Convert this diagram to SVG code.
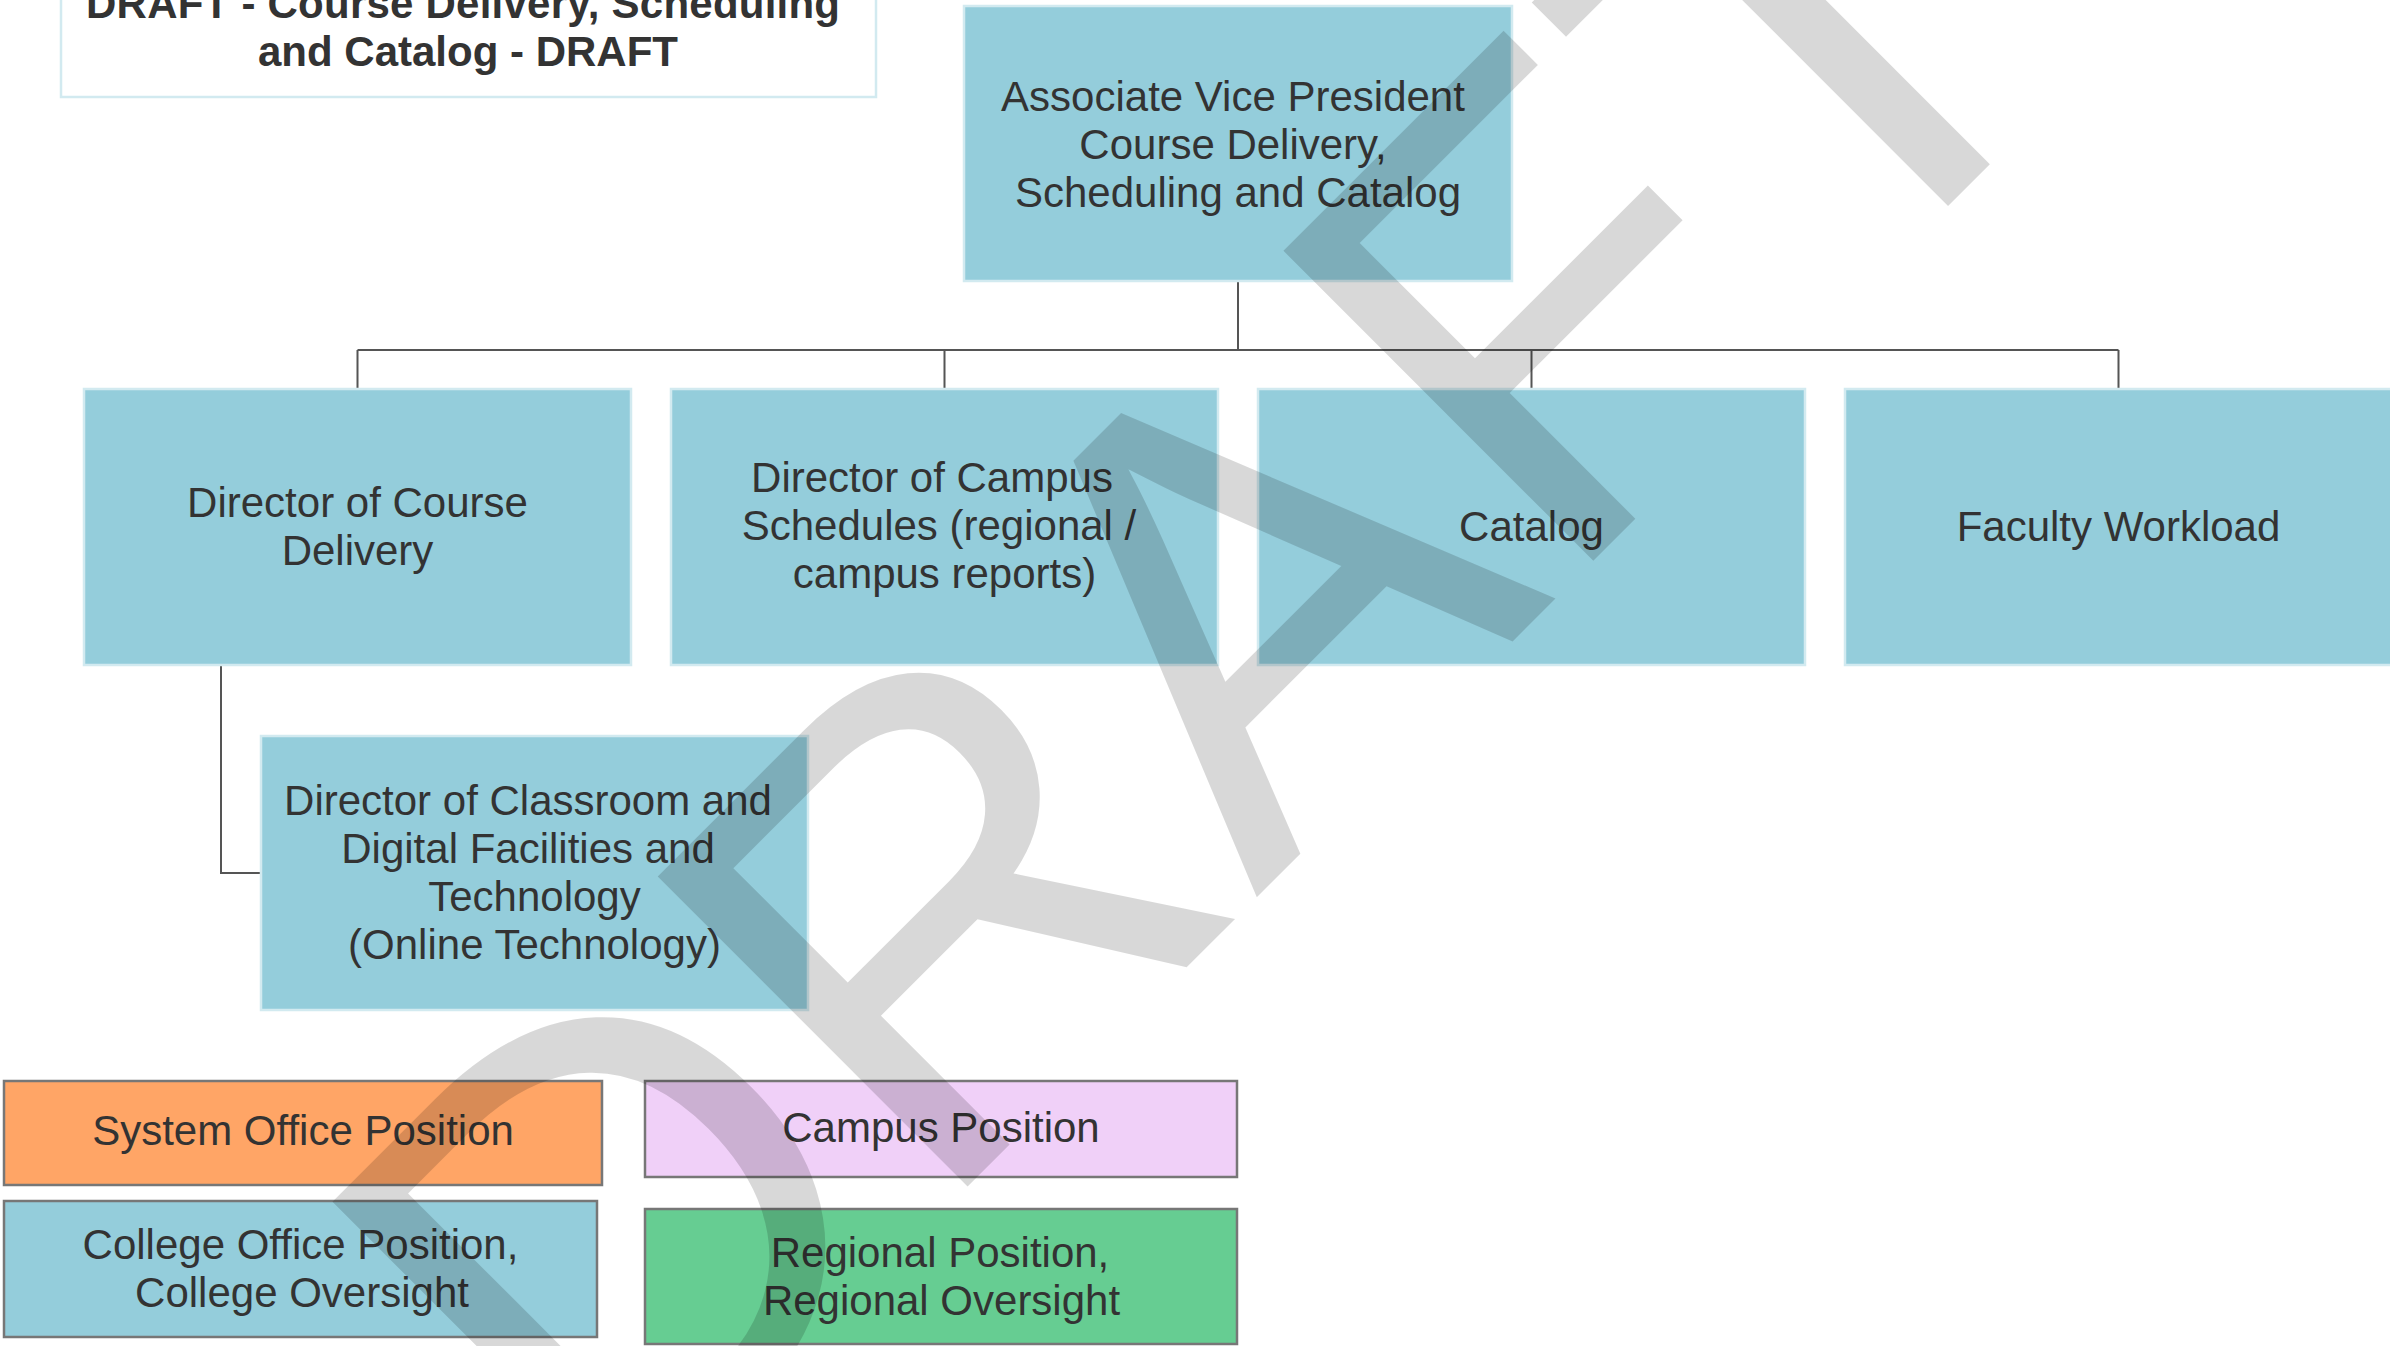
<svg xmlns="http://www.w3.org/2000/svg" width="2390" height="1346" viewBox="0 0 2390 1346">
<style>
.bg{fill:#ffffff}
.node{fill:#94CDDB;stroke:#D2EAF0;stroke-width:2.5}
.title{fill:#ffffff;stroke:#D2EAF0;stroke-width:2.5}
.leg{stroke:#777777;stroke-width:2.5}
.t{font-family:"Liberation Sans",Arial,sans-serif;font-size:42px;fill:#333333;text-anchor:middle}
.tb{font-family:"Liberation Sans",Arial,sans-serif;font-size:42px;font-weight:bold;fill:#333333;text-anchor:middle}
.conn{fill:none;stroke:#555555;stroke-width:2}
.wm{font-family:"Liberation Sans",Arial,sans-serif;font-size:637px;fill:#000000;fill-opacity:0.153;text-anchor:middle}
</style>
<rect class="bg" x="0" y="0" width="2390" height="1346"/>
<g id="title">
<rect class="title" x="61" y="-40" width="815" height="137"/>
<text class="tb" x="463" y="18" textLength="754" lengthAdjust="spacing">DRAFT - Course Delivery, Scheduling</text>
<text class="tb" x="468" y="66">and Catalog - DRAFT</text>
</g>
<g id="connectors">
<path class="conn" d="M1238,281 V350 M357.5,350 H2118.5 M357.5,350 V389 M944.5,350 V389 M1531.5,350 V389 M2118.5,350 V389"/>
<path class="conn" d="M221,665 V873 H261"/>
</g>
<g id="avp">
<rect class="node" x="964" y="6" width="548" height="275"/>
<text class="t" x="1233" y="111">Associate Vice President</text>
<text class="t" x="1233" y="159">Course Delivery,</text>
<text class="t" x="1238" y="207">Scheduling and Catalog</text>
</g>
<g id="course-delivery">
<rect class="node" x="84" y="389" width="547" height="276"/>
<text class="t" x="357.5" y="517">Director of Course</text>
<text class="t" x="357.5" y="565">Delivery</text>
</g>
<g id="campus-schedules">
<rect class="node" x="671" y="389" width="547" height="276"/>
<text class="t" x="932" y="492">Director of Campus</text>
<text class="t" x="939" y="540">Schedules (regional /</text>
<text class="t" x="944.5" y="588">campus reports)</text>
</g>
<g id="catalog">
<rect class="node" x="1258" y="389" width="547" height="276"/>
<text class="t" x="1531.5" y="541">Catalog</text>
</g>
<g id="faculty-workload">
<rect class="node" x="1845" y="389" width="547" height="276"/>
<text class="t" x="2118.5" y="541">Faculty Workload</text>
</g>
<g id="classroom-tech">
<rect class="node" x="261" y="736" width="547" height="274"/>
<text class="t" x="528" y="815">Director of Classroom and</text>
<text class="t" x="528" y="863">Digital Facilities and</text>
<text class="t" x="534.5" y="911">Technology</text>
<text class="t" x="534.5" y="959">(Online Technology)</text>
</g>
<g id="legend-system">
<rect class="leg" fill="#FFA566" x="4" y="1081" width="598" height="104"/>
<text class="t" x="303" y="1145">System Office Position</text>
</g>
<g id="legend-campus">
<rect class="leg" fill="#F0D0F8" x="645" y="1081" width="592" height="96"/>
<text class="t" x="941" y="1142">Campus Position</text>
</g>
<g id="legend-college">
<rect class="leg" fill="#94CDDB" x="4" y="1201" width="593" height="136"/>
<text class="t" x="300.5" y="1259">College Office Position,</text>
<text class="t" x="302" y="1307">College Oversight</text>
</g>
<g id="legend-regional">
<rect class="leg" fill="#66CD92" x="645" y="1209" width="592" height="135"/>
<text class="t" x="940" y="1267">Regional Position,</text>
<text class="t" x="941.5" y="1315">Regional Oversight</text>
</g>
<g id="watermark">
<text class="wm" transform="translate(1356,798) rotate(-45)" x="0" y="0">DRAFT</text>
</g>
</svg>
